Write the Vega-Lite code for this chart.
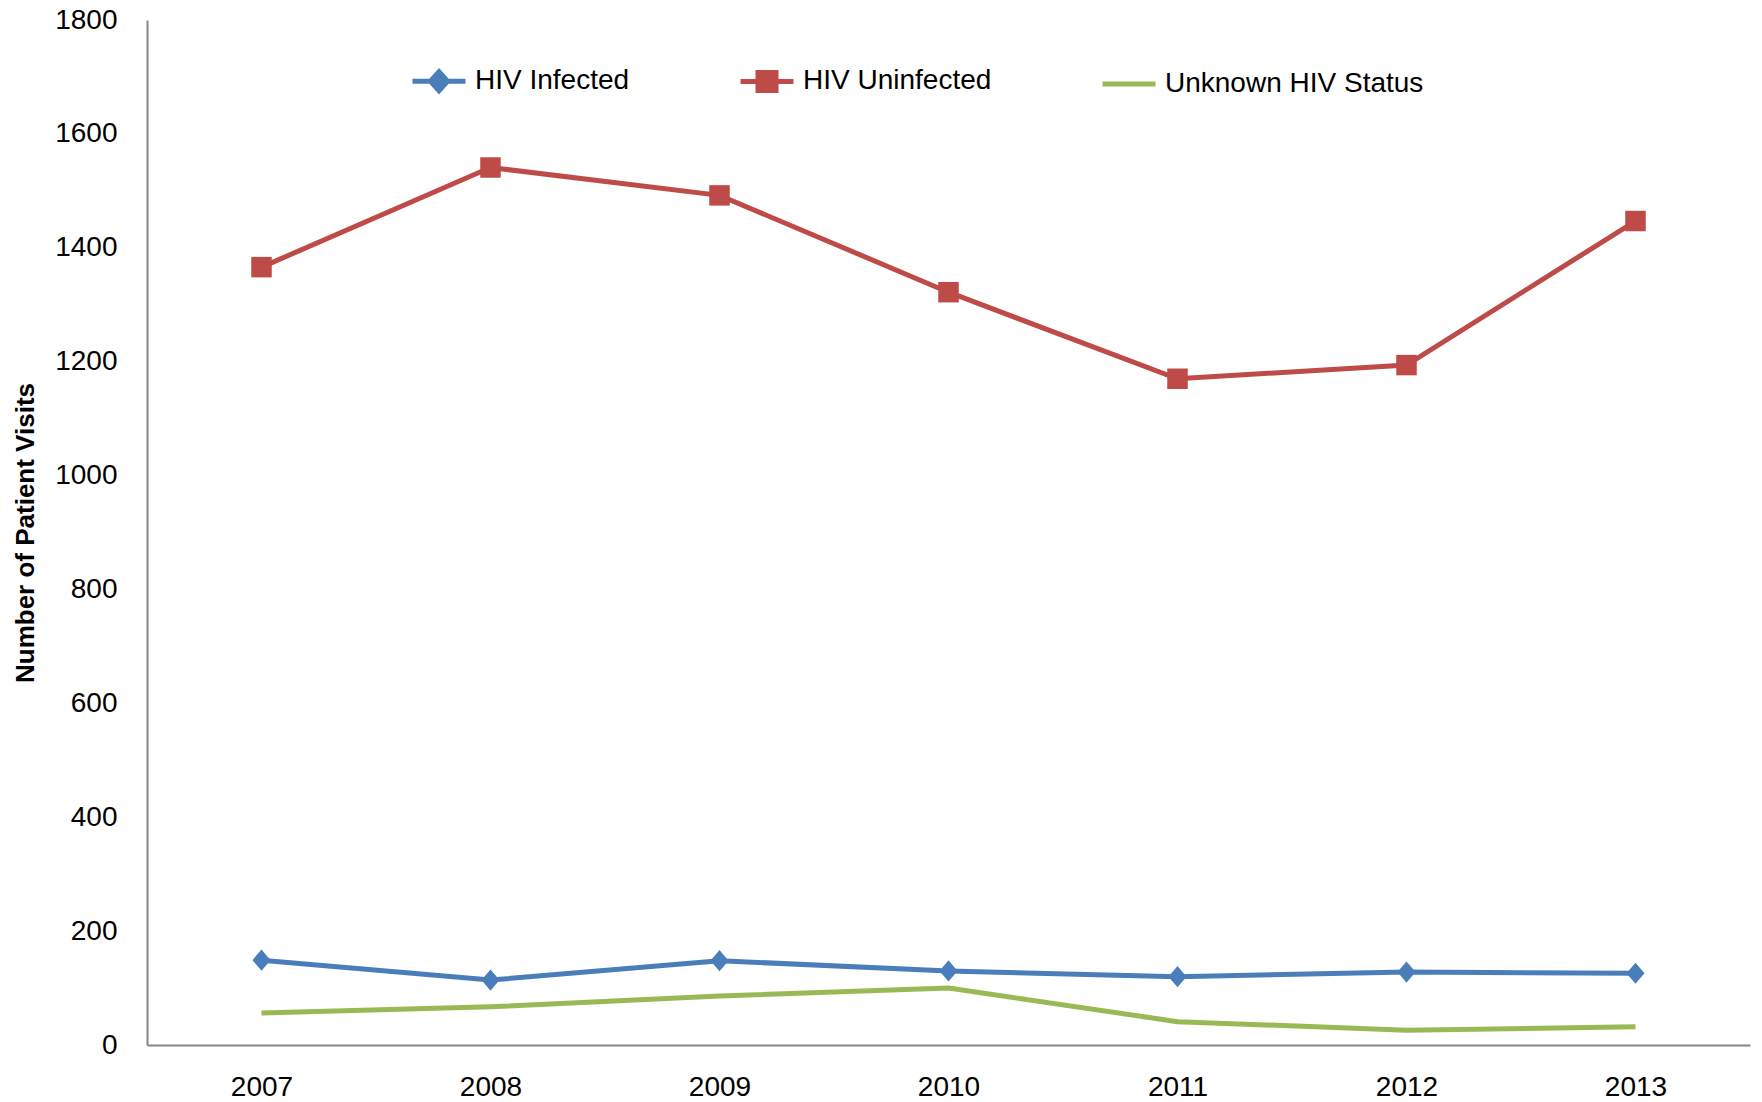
{
  "$schema": "https://vega.github.io/schema/vega-lite/v6.json",
  "width": 1603,
  "height": 1025,
  "autosize": "none",
  "padding": {"left": 147, "top": 20, "right": 12, "bottom": 57},
  "background": "white",
  "config": {
    "view": {"stroke": null},
    "font": "Liberation Sans",
    "axis": {
      "labelFont": "Liberation Sans",
      "labelFontSize": 28,
      "labelColor": "black",
      "domainColor": "#868686",
      "domainWidth": 2,
      "ticks": false,
      "grid": false
    },
    "legend": {
      "orient": "none",
      "direction": "horizontal",
      "legendX": 263,
      "legendY": 32,
      "symbolSize": 2809,
      "symbolStrokeWidth": 5,
      "labelFont": "Liberation Sans",
      "labelFontSize": 28,
      "labelColor": "black",
      "labelOffset": 7,
      "labelLimit": 0,
      "columnPadding": 100
    }
  },
  "data": {
    "values": [
      {"year": "2007", "series": "HIV Infected", "visits": 149},
      {"year": "2008", "series": "HIV Infected", "visits": 114},
      {"year": "2009", "series": "HIV Infected", "visits": 148},
      {"year": "2010", "series": "HIV Infected", "visits": 130},
      {"year": "2011", "series": "HIV Infected", "visits": 120},
      {"year": "2012", "series": "HIV Infected", "visits": 128},
      {"year": "2013", "series": "HIV Infected", "visits": 126},
      {"year": "2007", "series": "HIV Uninfected", "visits": 1366},
      {"year": "2008", "series": "HIV Uninfected", "visits": 1541},
      {"year": "2009", "series": "HIV Uninfected", "visits": 1492},
      {"year": "2010", "series": "HIV Uninfected", "visits": 1322},
      {"year": "2011", "series": "HIV Uninfected", "visits": 1170},
      {"year": "2012", "series": "HIV Uninfected", "visits": 1194},
      {"year": "2013", "series": "HIV Uninfected", "visits": 1447},
      {"year": "2007", "series": "Unknown HIV Status", "visits": 56},
      {"year": "2008", "series": "Unknown HIV Status", "visits": 67},
      {"year": "2009", "series": "Unknown HIV Status", "visits": 86},
      {"year": "2010", "series": "Unknown HIV Status", "visits": 100},
      {"year": "2011", "series": "Unknown HIV Status", "visits": 41},
      {"year": "2012", "series": "Unknown HIV Status", "visits": 26},
      {"year": "2013", "series": "Unknown HIV Status", "visits": 32}
    ]
  },
  "encoding": {
    "x": {
      "field": "year",
      "type": "ordinal",
      "scale": {"type": "point", "padding": 0.5},
      "axis": {"title": null, "labelAngle": 0, "labelPadding": 28}
    },
    "y": {
      "field": "visits",
      "type": "quantitative",
      "scale": {"domain": [0, 1800], "nice": false},
      "axis": {
        "values": [0, 200, 400, 600, 800, 1000, 1200, 1400, 1600, 1800],
        "format": "d",
        "title": "Number of Patient Visits",
        "titleFont": "Liberation Sans",
        "titleFontSize": 26,
        "titleFontWeight": "bold",
        "titleColor": "black",
        "titlePadding": 16,
        "labelPadding": 30
      }
    },
    "color": {
      "field": "series",
      "type": "nominal",
      "scale": {
        "domain": ["HIV Infected", "HIV Uninfected", "Unknown HIV Status"],
        "range": ["#4A7EBB", "#BE4B48", "#98B954"]
      },
      "legend": {
        "title": null,
        "encode": {
          "symbols": {
            "update": {
              "fill": {"scale": "color", "field": "value"},
              "stroke": {"scale": "color", "field": "value"},
              "shape": {"scale": "shape", "field": "value"},
              "size": {"value": 2809},
              "strokeWidth": {"value": 5},
              "opacity": {"value": 1},
              "fillOpacity": {"value": 1},
              "strokeOpacity": {"value": 1}
            }
          }
        }
      }
    }
  },
  "layer": [
    {
      "mark": {"type": "line", "strokeWidth": 5}
    },
    {
      "transform": [{"filter": "datum.series === 'HIV Infected'"}],
      "mark": {"type": "point", "shape": "M0,-1L0.85,0L0,1L-0.85,0Z", "size": 450, "filled": true, "opacity": 1}
    },
    {
      "transform": [{"filter": "datum.series === 'HIV Uninfected'"}],
      "mark": {"type": "point", "shape": "square", "size": 420, "filled": true, "opacity": 1}
    },
    {
      "mark": {"type": "point", "filled": true, "opacity": 0},
      "encoding": {
        "shape": {
          "field": "series",
          "type": "nominal",
          "scale": {
            "domain": ["HIV Infected", "HIV Uninfected", "Unknown HIV Status"],
            "range": [
              "M-1,0H-0.32L0,-0.36L0.32,0H1H0.32L0,0.36L-0.32,0H-1Z",
              "M-1,0H-0.34V-0.34H0.34V0H1H0.34V0.34H-0.34V0H-1Z",
              "M-1,0H1"
            ]
          },
          "legend": {
            "title": null,
            "encode": {
              "symbols": {
                "update": {
                  "fill": {"scale": "color", "field": "value"},
                  "stroke": {"scale": "color", "field": "value"},
                  "shape": {"scale": "shape", "field": "value"},
                  "size": {"value": 2809},
                  "strokeWidth": {"value": 5},
                  "opacity": {"value": 1},
                  "fillOpacity": {"value": 1},
                  "strokeOpacity": {"value": 1}
                }
              }
            }
          }
        }
      }
    }
  ]
}
